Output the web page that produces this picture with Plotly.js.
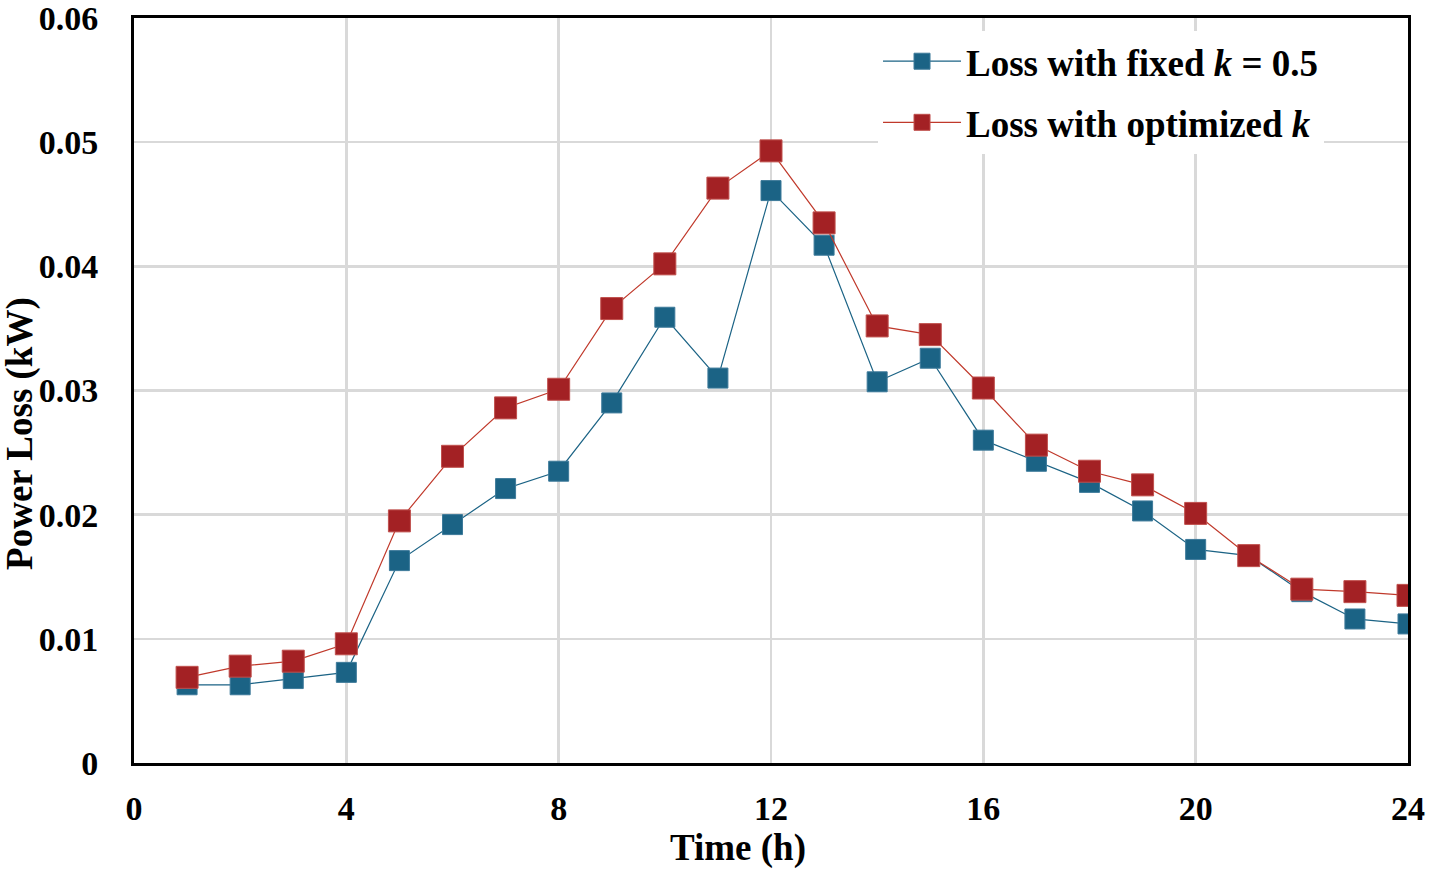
<!DOCTYPE html>
<html>
<head>
<meta charset="utf-8">
<script src="https://cdn.plot.ly/plotly-3.0.1.min.js"></script>
<style>body{margin:0;padding:0;background:#fff;} #chart{width:1431px;height:873px;}</style>
</head>
<body>
<div id="chart"></div>
<script>
const hours = [1,2,3,4,5,6,7,8,9,10,11,12,13,14,15,16,17,18,19,20,21,22,23,24];
const lossFixed = [0.0063,0.0063,0.0068,0.0073,0.0163,0.0192,0.0221,0.0235,0.0290,0.0359,0.0310,0.0461,0.0417,0.0307,0.0326,0.0260,0.0243,0.0226,0.0203,0.0172,0.0167,0.0138,0.0116,0.0112];
const lossOptimized = [0.0069,0.0078,0.0082,0.0096,0.0195,0.0247,0.0286,0.0301,0.0366,0.0402,0.0463,0.0493,0.0435,0.0352,0.0345,0.0302,0.0256,0.0235,0.0224,0.0201,0.0167,0.0140,0.0138,0.0135];
const xTicks = [0,4,8,12,16,20,24];
const yTicks = [0,0.01,0.02,0.03,0.04,0.05,0.06];
const yTickText = ['0','0.01','0.02','0.03','0.04','0.05','0.06'];
const xTitle = 'Time (h)';
const yTitle = 'Power Loss (kW)';

const fontFam = '"Liberation Serif", "Times New Roman", serif';
const blue = '#1b6385';
const red = '#a32124';

const traces = [
  {x: hours, y: lossFixed, name: 'Loss with fixed <i>k</i> = 0.5', legendgroup:'a', mode: 'lines+markers',
   line: {color: blue, width: 1.2}, marker: {symbol: 'square', size: 20, color: blue, line:{color:'#3d7a9a', width:1}}},
  {x: hours, y: lossOptimized, name: 'Loss with optimized <i>k</i>', legendgroup:'b', mode: 'lines+markers',
   line: {color: '#c0392b', width: 1.2}, marker: {symbol: 'square', size: 22, color: red, line:{color:'#c0504d', width:1}}}
];

const layout = {
  width: 1431, height: 873,
  margin: {l: 134, r: 23, t: 18, b: 110},
  paper_bgcolor: '#fff', plot_bgcolor: '#fff',
  font: {family: fontFam, size: 34, color: '#000'},
  showlegend: true,
  legend: {x: 0.584, y: 0.983, xanchor: 'left', yanchor: 'top', bgcolor: '#fff',
           font: {family: fontFam, size: 37, color: '#000', weight: 'bold'},
           tracegroupgap: 10, traceorder: 'grouped', itemwidth: 78},
  xaxis: {range: [0, 24], tickvals: xTicks, ticktext: xTicks.map(String),
          showgrid: true, gridcolor: '#d9d9d9', gridwidth: 2.5, zeroline: false,
          showline: true, mirror: true, linecolor: '#000', linewidth: 3,
          ticks: 'outside', ticklen: 13, tickcolor: 'rgba(0,0,0,0)',
          ticklabeloverflow: 'allow',
          tickfont: {family: fontFam, size: 34, color: '#000', weight: 'bold'}},
  yaxis: {range: [0, 0.06], tickvals: yTicks, ticktext: yTickText,
          showgrid: true, gridcolor: '#d9d9d9', gridwidth: 2.5, zeroline: false,
          showline: true, mirror: true, linecolor: '#000', linewidth: 3,
          ticks: 'outside', ticklen: 26, tickcolor: 'rgba(0,0,0,0)',
          ticklabeloverflow: 'allow',
          tickfont: {family: fontFam, size: 34, color: '#000', weight: 'bold'}},
  annotations: [
    {text: '<b>' + xTitle + '</b>', xref: 'paper', yref: 'paper', x: 0.474, y: -0.114,
     xanchor: 'center', yanchor: 'middle', showarrow: false,
     font: {family: fontFam, size: 37, color: '#000'}},
    {text: '<b>' + yTitle + '</b>', xref: 'paper', yref: 'paper', x: -0.0895, y: 0.443,
     xanchor: 'center', yanchor: 'middle', showarrow: false, textangle: -90,
     font: {family: fontFam, size: 37, color: '#000'}}
  ]
};

Plotly.newPlot('chart', traces, layout, {displayModeBar: false, staticPlot: true});
</script>
</body>
</html>
